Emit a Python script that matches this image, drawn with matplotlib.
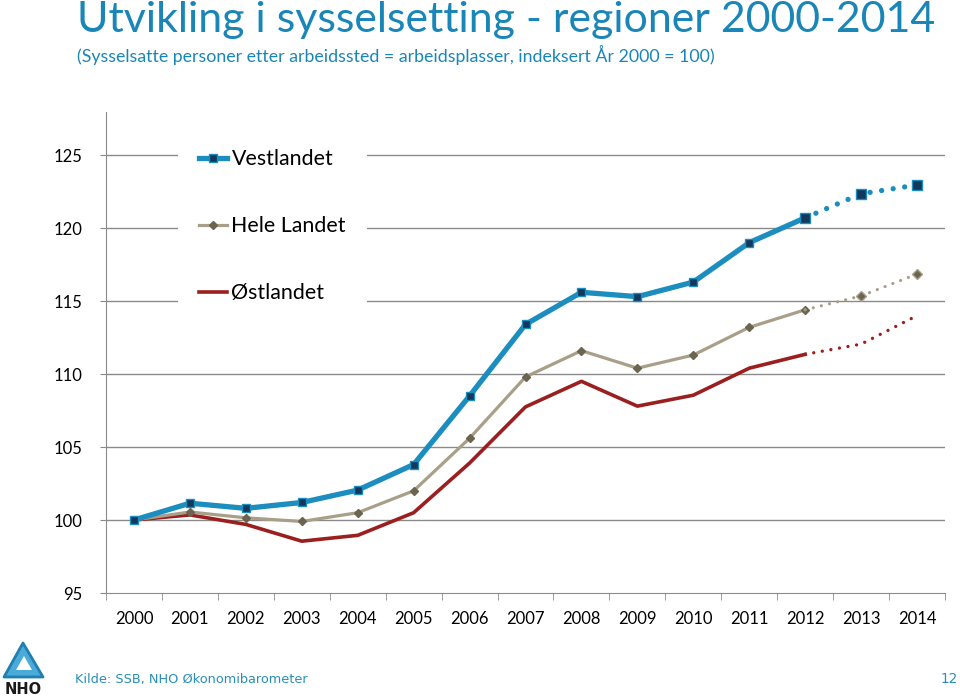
import matplotlib
matplotlib.use("Agg")
import matplotlib.pyplot as plt
from matplotlib.patches import Polygon
from matplotlib.lines import Line2D

years = [str(y) for y in range(2000, 2015)]
vestlandet = [100, 101.15, 100.8, 101.2, 102.05, 103.8, 108.5, 113.4, 115.6, 115.3, 116.3, 119.0, 120.7, 122.35, 122.95]
hele_landet = [100, 100.55, 100.15, 99.9, 100.5, 102.0, 105.6, 109.8, 111.6, 110.4, 111.3, 113.2, 114.4, 115.35, 116.85]
ostlandet = [100, 100.35, 99.7, 98.55, 98.95, 100.5, 103.9, 107.75, 109.5, 107.8, 108.55, 110.4, 111.35, 112.05, 114.0]
forecast_from = 12  # index of 2012, dotted after that
yticks = [95, 100, 105, 110, 115, 120, 125]

blue = "#1b8dbe"
navy = "#12395c"
tan = "#a99f89"
tan_dark = "#6b6550"
red = "#9b1f1f"
grid_col = "#8a8a8a"
txt_blue = "#1a86b8"

fig = plt.figure(figsize=(9.6, 6.97), dpi=100)
ax = fig.add_axes([106/960, 1-593/697, (945-106)/960, (593-112)/697])

x = list(range(len(years)))
f = forecast_from

for yv in yticks[1:]:
    ax.axhline(yv, color=grid_col, lw=1, zorder=0)

# solid part
ax.plot(x[:f+1], ostlandet[:f+1], color=red, lw=2.6, zorder=3)
ax.plot(x[:f+1], hele_landet[:f+1], color=tan, lw=2.3, marker="D", ms=4,
        mfc=tan_dark, mec=tan_dark, zorder=4)
ax.plot(x[:f+1], vestlandet[:f+1], color=blue, lw=3.8, marker="s", ms=6,
        mfc=navy, mec=blue, mew=1, zorder=5)

# dotted part
ax.plot(x[f:], ostlandet[f:], color=red, lw=2.4, ls=(0, (0.01, 2.6)),
        dash_capstyle="round", zorder=3)
ax.plot(x[f:], hele_landet[f:], color=tan, lw=2.3, ls=(0, (0.01, 2.6)),
        dash_capstyle="round", zorder=4)
ax.plot(x[f+1:], hele_landet[f+1:], ls="none", marker="D", ms=5,
        mfc=tan_dark, mec=tan, zorder=4)
ax.plot(x[f:], vestlandet[f:], color=blue, lw=3.8, ls=(0, (0.01, 2.2)),
        dash_capstyle="round", zorder=5)
ax.plot(x[f:], vestlandet[f:], ls="none", marker="s", ms=7,
        mfc=navy, mec=blue, mew=1, zorder=6)

ax.set_xlim(-0.5, len(years) - 0.5)
ax.set_ylim(95, 127.95)
ax.set_yticks(yticks)
ax.set_yticklabels([str(v) for v in yticks])
ax.set_xticks(x)
ax.set_xticklabels(years)
ax.set_xticks([i - 0.5 for i in range(len(years) + 1)], minor=True)
ax.tick_params(axis="x", which="major", length=0, pad=13, labelsize=12)
ax.tick_params(axis="x", which="minor", length=5, color=grid_col, direction="out")
ax.tick_params(axis="y", length=4, color=grid_col, pad=13, labelsize=12)
for lab in ax.get_xticklabels() + ax.get_yticklabels():
    lab.set_family("Lato")
for s in ["top", "right"]:
    ax.spines[s].set_visible(False)
for s in ["left", "bottom"]:
    ax.spines[s].set_color(grid_col)

handles = [
    Line2D([], [], color=blue, lw=3.8, marker="s", ms=6, mfc=navy, mec=blue),
    Line2D([], [], color=tan, lw=2.3, marker="D", ms=4, mfc=tan_dark, mec=tan_dark),
    Line2D([], [], color=red, lw=2.6),
]
leg = ax.legend(handles, ["Vestlandet", "Hele Landet", "Østlandet"],
                loc="upper left", bbox_to_anchor=(72/839, 1-15.7/481),
                borderaxespad=0,
                frameon=True, facecolor="white", edgecolor="none", framealpha=1,
                fancybox=False, handlelength=1.3, handletextpad=0.2,
                labelspacing=2.2, borderpad=1.0,
                prop={"family": "Lato", "size": 15.4})
leg.set_zorder(7)

fig.text(77/960, 1-20/697, "Utvikling i sysselsetting - regioner 2000-2014",
         color=txt_blue, family="Lato", fontsize=30.9, va="center", ha="left")
fig.text(77/960, 1-55/697,
         "(Sysselsatte personer etter arbeidssted = arbeidsplasser, indeksert År 2000 = 100)",
         color=txt_blue, family="Lato", fontsize=12.8, va="center", ha="left")
fig.text(75/960, 1-680/697, "Kilde: SSB, NHO Økonomibarometer",
         color="#2a8fb8", family="DejaVu Sans", fontsize=9.3, va="center", ha="left")
fig.text(958/960, 1-679/697, "12", color="#2a8fb8", family="DejaVu Sans",
         fontsize=9.8, va="center", ha="right")

# small NHO logo
fig.patches.append(Polygon([(4/960, 1-677/697), (23/960, 1-643/697), (43/960, 1-677/697)],
                           closed=True, transform=fig.transFigure, fc="#4aaad8",
                           ec="#1f7fb0", lw=2, joinstyle="round"))
fig.patches.append(Polygon([(16/960, 1-670/697), (24/960, 1-656/697), (32/960, 1-670/697)],
                           closed=True, transform=fig.transFigure, fc="white", ec="none"))
fig.text(23/960, 1-689/697, "NHO", family="DejaVu Sans", fontweight="bold",
         fontsize=10.5, color="#1a1a1a", ha="center", va="center")

fig.savefig("out.png", dpi=100)
